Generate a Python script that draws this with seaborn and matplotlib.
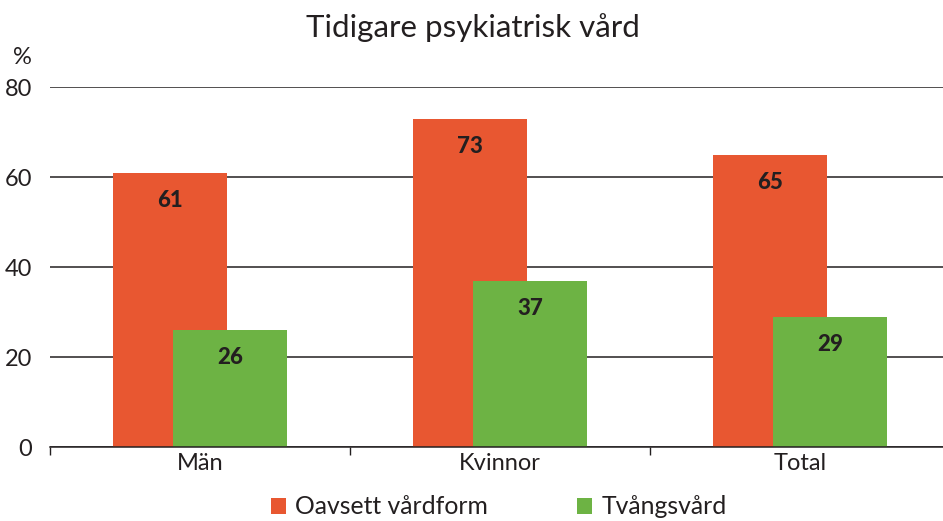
import matplotlib
matplotlib.use("Agg")
import matplotlib.pyplot as plt
import seaborn as sns
import pandas as pd
import numpy as np
from matplotlib.patches import Patch

categories = ["Män", "Kvinnor", "Total"]
oavsett = [61, 73, 65]
tvangsvard = [26, 37, 29]
series_names = ["Oavsett vårdform", "Tvångsvård"]
yticks = [0, 20, 40, 60, 80]

col_orange = "#E85731"
col_green = "#6DB344"
txt = "#231F20"

sns.set_theme(style="white")
plt.rcParams["font.family"] = ["Lato", "DejaVu Sans"]

fig = plt.figure(figsize=(9.43, 5.21), dpi=100)
ax = fig.add_axes([50/943, 1-447/521, 900/943, 360/521])

idx = np.arange(len(categories))
off = 0.1
w = 0.383
df1 = pd.DataFrame({"x": idx - off, "y": oavsett})
df2 = pd.DataFrame({"x": idx + off, "y": tvangsvard})
sns.barplot(data=df1, x="x", y="y", native_scale=True, width=w, color=col_orange,
            saturation=1, ax=ax, zorder=2, linewidth=0)
sns.barplot(data=df2, x="x", y="y", native_scale=True, width=w, color=col_green,
            saturation=1, ax=ax, zorder=3, linewidth=0)

for xs, vals in ((idx - off, oavsett), (idx + off, tvangsvard)):
    for x, v in zip(xs, vals):
        ax.text(x, v - 6.2, f"{v}", ha="center", va="center", fontsize=16,
                fontweight="black", color=txt, zorder=5)

ax.set_xlim(-0.5, 2.5)
ax.set_ylim(0, 80)
ax.set_yticks(yticks)
ax.set_yticklabels([str(t) for t in yticks], fontsize=17, color=txt)
ax.set_xticks(idx)
ax.set_xticklabels(categories, fontsize=17, color=txt)
ax.set_xticks([-0.5, 0.5, 1.5, 2.5], minor=True)
ax.tick_params(axis="x", which="major", length=0, pad=4)
ax.tick_params(axis="x", which="minor", length=6, width=1, color=txt, direction="out", bottom=True)
ax.tick_params(axis="y", length=0, pad=13)
ax.set_xlabel("")
ax.set_ylabel("")
ax.yaxis.grid(True, color=txt, linewidth=1.1)
ax.set_axisbelow(True)
for s in ("left", "right", "top"):
    ax.spines[s].set_visible(False)
ax.spines["bottom"].set_color(txt)
ax.spines["bottom"].set_linewidth(1.1)
ax.spines["bottom"].set_zorder(4)

fig.text(22/943, 1-57/521, "%", fontsize=17, color=txt, ha="center", va="center")
fig.text(473/943, 1-28/521, "Tidigare psykiatrisk vård", fontsize=22.5, color=txt,
         ha="center", va="center")

handles = [Patch(facecolor=col_orange, edgecolor="none"), Patch(facecolor=col_green, edgecolor="none")]
fig.legend(handles, series_names, loc="center", bbox_to_anchor=(499/943, 1-507/521),
           ncol=2, frameon=False, fontsize=17.8, handlelength=0.6, handleheight=0.6,
           handletextpad=0.4, columnspacing=3.6, labelcolor=txt)

fig.savefig("out.png", dpi=100)
